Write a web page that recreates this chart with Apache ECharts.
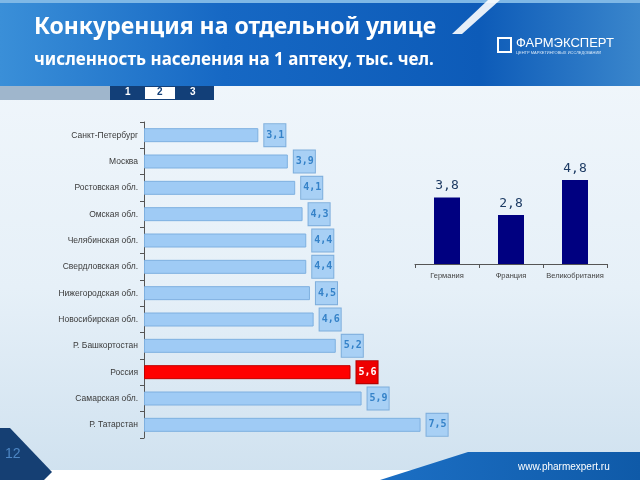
<!DOCTYPE html>
<html><head><meta charset="utf-8">
<script src="https://cdn.jsdelivr.net/npm/echarts@6/dist/echarts.min.js"></script>
<style>html,body{margin:0;padding:0;}#c{width:640px;height:480px;}</style>
</head><body><div id="c"></div>
<script>
const regions = ['Санкт-Петербург','Москва','Ростовская обл.','Омская обл.','Челябинская обл.','Свердловская обл.','Нижегородская обл.','Новосибирская обл.','Р. Башкортостан','Россия','Самарская обл.','Р. Татарстан'];
const regionValues = [3.1,3.9,4.1,4.3,4.4,4.4,4.5,4.6,5.2,5.6,5.9,7.5];
const highlighted = 'Россия';
const countries = ['Германия','Франция','Великобритания'];
const countryValues = [3.8,2.8,4.8];
const title = 'Конкуренция на отдельной улице';
const subtitle = 'численность населения на 1 аптеку, тыс. чел.';
const tabs = ['1','2','3'];

const fmt = v => String(v).replace('.', ',');
const chart = echarts.init(document.getElementById('c'));

const regionData = regions.map((r, i) => {
  if (r === highlighted) {
    return { value: regionValues[i],
      itemStyle: { color: '#ff0000', borderColor: '#c00000' },
      label: { color: '#ffffff', backgroundColor: '#ee0000', borderColor: '#b00000' } };
  }
  return regionValues[i];
});

chart.setOption({
  animation: false,
  graphic: [
    { type: 'rect', z: -10, shape: { x: 0, y: 0, width: 640, height: 480 },
      style: { fill: new echarts.graphic.LinearGradient(0, 0, 0, 1, [
        { offset: 0, color: '#f3f8fc' }, { offset: 0.6, color: '#e6f0f8' }, { offset: 1, color: '#cfe1ef' }]) } },
    { type: 'rect', z: -9, shape: { x: 0, y: 470, width: 640, height: 10 }, style: { fill: '#ffffff' } },
    { type: 'rect', z: -8, shape: { x: 0, y: 0, width: 640, height: 86 },
      style: { fill: new echarts.graphic.LinearGradient(0, 0, 1, 0, [
        { offset: 0, color: '#3a8fd8' }, { offset: 0.35, color: '#1668c4' }, { offset: 0.75, color: '#0d5bb8' }, { offset: 1, color: '#3a86cc' }]) } },
    { type: 'rect', z: -7, shape: { x: 0, y: 0, width: 640, height: 3 }, style: { fill: '#7fb8e6' } },
    { type: 'polygon', z: -7, shape: { points: [[488, 0], [500, 0], [462, 34], [452, 34]] }, style: { fill: '#ffffff', opacity: 0.9 } },
    { type: 'rect', z: -8, shape: { x: 0, y: 86, width: 110, height: 14 }, style: { fill: '#9fb6cc' } },
    { type: 'rect', z: -8, shape: { x: 110, y: 86, width: 104, height: 14 }, style: { fill: '#123f78' } },
    { type: 'rect', z: -7, shape: { x: 145, y: 87, width: 30, height: 12 }, style: { fill: '#ffffff' } },
    { type: 'text', z: 5, left: 125, top: 87, style: { text: tabs[0], fill: '#ffffff', font: 'bold 10px "Liberation Sans"' } },
    { type: 'text', z: 5, left: 157, top: 87, style: { text: tabs[1], fill: '#123f78', font: 'bold 10px "Liberation Sans"' } },
    { type: 'text', z: 5, left: 190, top: 87, style: { text: tabs[2], fill: '#ffffff', font: 'bold 10px "Liberation Sans"' } },
    { type: 'text', z: 5, left: 34, top: 16, style: { text: title, fill: '#ffffff', font: 'bold 23px "Noto Sans"' } },
    { type: 'text', z: 5, left: 34, top: 52, style: { text: subtitle, fill: '#ffffff', font: 'bold 17px "Noto Sans"' } },
    { type: 'rect', z: 5, shape: { x: 498, y: 38, width: 13, height: 14 }, style: { fill: 'none', stroke: '#ffffff', lineWidth: 2 } },
    { type: 'text', z: 5, left: 516, top: 37, style: { text: 'ФАРМЭКСПЕРТ', fill: '#ffffff', font: '13px "Liberation Sans"' } },
    { type: 'text', z: 5, left: 516, top: 51, style: { text: 'ЦЕНТР МАРКЕТИНГОВЫХ ИССЛЕДОВАНИЙ', fill: '#d8e8f8', font: '4px "Liberation Sans"' } },
    { type: 'polygon', z: -6, shape: { points: [[0, 428], [10, 428], [52, 472], [44, 480], [0, 480]] }, style: { fill: '#153f73' } },
    { type: 'text', z: 5, left: 5, top: 447, style: { text: '12', fill: '#4d86c4', font: '14px "Liberation Sans"' } },
    { type: 'polygon', z: -6, shape: { points: [[468, 452], [640, 452], [640, 480], [380, 480]] },
      style: { fill: new echarts.graphic.LinearGradient(0, 0, 1, 0, [{ offset: 0, color: '#1c6fc4' }, { offset: 1, color: '#0f5aa8' }]) } },
    { type: 'text', z: 5, left: 518, top: 462, style: { text: 'www.pharmexpert.ru', fill: '#ffffff', font: '10px "Liberation Sans"' } }
  ],
  grid: [
    { left: 144, top: 122, width: 295, height: 316 },
    { left: 415, top: 159, width: 192, height: 105 }
  ],
  xAxis: [
    { gridIndex: 0, type: 'value', min: 0, max: 8, show: false },
    { gridIndex: 1, type: 'category', data: countries,
      axisLine: { lineStyle: { color: '#555', width: 1 } },
      axisTick: { show: true, length: 4, lineStyle: { color: '#555' } },
      axisLabel: { interval: 0, color: '#444', fontSize: 7.5, fontFamily: 'Liberation Sans', margin: 8 } }
  ],
  yAxis: [
    { gridIndex: 0, type: 'category', data: regions, inverse: true,
      axisLine: { lineStyle: { color: '#555', width: 1 } },
      axisTick: { show: true, length: 4, lineStyle: { color: '#555' } },
      axisLabel: { interval: 0, color: '#3a3a3a', fontSize: 8.5, fontFamily: 'Liberation Sans', margin: 6 } },
    { gridIndex: 1, type: 'value', min: 0, max: 6, show: false }
  ],
  series: [
    { type: 'bar', xAxisIndex: 0, yAxisIndex: 0, data: regionData, barWidth: 14,
      itemStyle: { color: '#9fcbf5', borderColor: '#7eb0e0', borderWidth: 1 },
      label: { show: true, position: 'right', distance: 6, formatter: p => fmt(p.value),
        color: '#3582c8', fontFamily: 'DejaVu Sans Mono', fontWeight: 'bold', fontSize: 10,
        backgroundColor: '#a8d0f5', borderColor: '#7eaedc', borderWidth: 1, padding: [6, 1, 6, 2] } },
    { type: 'bar', xAxisIndex: 1, yAxisIndex: 1, data: countryValues, barWidth: 26,
      itemStyle: { color: '#000080' },
      label: { show: true, position: 'top', distance: 5, formatter: p => fmt(p.value),
        color: '#1d3b63', fontFamily: 'DejaVu Sans Mono', fontSize: 13 } }
  ]
});
</script></body></html>
